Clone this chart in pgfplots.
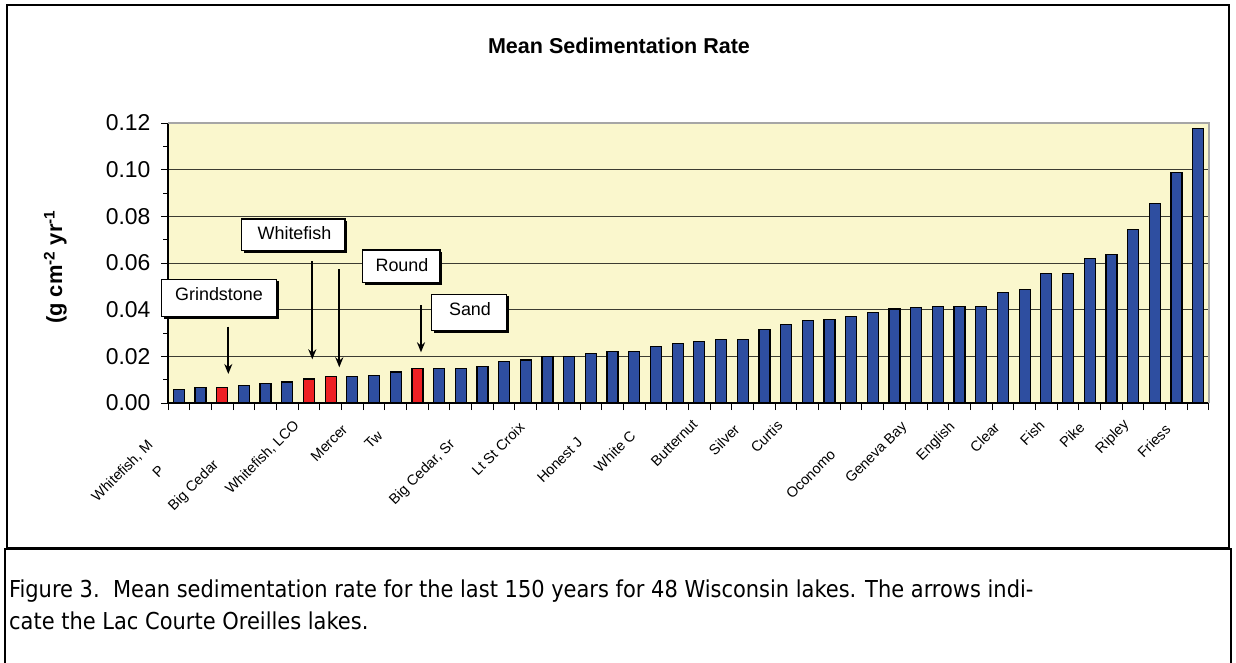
\documentclass[border=0pt]{standalone}
\usepackage{fontspec}
\setmainfont{Liberation Sans}
\newfontfamily\capfont{DejaVu Sans Condensed}
\usepackage{pgfplots}
\pgfplotsset{compat=1.18}
\usetikzlibrary{arrows.meta}
\definecolor{plotbg}{RGB}{250,247,205}
\definecolor{barblue}{RGB}{46,78,160}
\definecolor{barred}{RGB}{238,32,36}
\definecolor{gridc}{RGB}{60,60,50}
\begin{document}
\begin{tikzpicture}[x=1bp,y=1bp]
\path[use as bounding box] (0,0) rectangle (1236,-663);
% chart frame
\draw[line width=1.5bp] (7,-5) rectangle (1229,-548);
\begin{axis}[
  at={(168bp,-403bp)}, anchor=south west,
  scale only axis, width=1041bp, height=280bp,
  xmin=0.5, xmax=48.5, ymin=0, ymax=0.12,
  axis x line*=bottom, axis y line*=left,
  axis line style={black, line width=1.2bp},
  axis background/.style={fill=plotbg},
  xtick={0.5,1.5,...,48.5}, xticklabels={},
  ytick={0,0.02,0.04,0.06,0.08,0.10,0.12},
  minor y tick num=1,
  tick align=outside,
  major tick length=7bp, minor tick length=5bp,
  tick style={black, line width=1bp},
  ymajorgrids, grid style={gridc, line width=1bp},
  yticklabel style={font=\fontsize{23}{25}\selectfont, xshift=-7bp},
  /pgf/number format/.cd, fixed, fixed zerofill, precision=2, assume math mode=true,
  /pgfplots/.cd,
  ybar, bar width=11bp,
]
\addplot[fill=barblue, draw=black, line width=1.2bp, bar shift=0pt] coordinates {
(1,0.0059) (2,0.0067) (4,0.0074) (5,0.0083) (6,0.0090)
(9,0.0112) (10,0.0119) (11,0.0133) (13,0.0148) (14,0.0148)
(15,0.0156) (16,0.0177) (17,0.0184) (18,0.0200) (19,0.0200) (20,0.0212)
(21,0.0221) (22,0.0221) (23,0.0242) (24,0.0256) (25,0.0265) (26,0.0272)
(27,0.0272) (28,0.0315) (29,0.0338) (30,0.0352) (31,0.0359) (32,0.0372)
(33,0.0387) (34,0.0403) (35,0.0409) (36,0.0415) (37,0.0415) (38,0.0415)
(39,0.0474) (40,0.0488) (41,0.0555) (42,0.0555) (43,0.0621) (44,0.0636)
(45,0.0745) (46,0.0854) (47,0.0987) (48,0.1175)
};
\addplot[fill=barred, draw=black, line width=1.2bp, bar shift=0pt] coordinates {
(3,0.0067) (7,0.0103) (8,0.0112) (12,0.0148)
};
\end{axis}
% gray top/right border of plot area
\draw[gray!70, line width=1.2bp] (168,-123) -- (1209,-123) -- (1209,-403);
% title
\node[anchor=base, font=\bfseries\fontsize{21.6}{24}\selectfont] at (619,-54) {Mean Sedimentation Rate};
% y label
\node[rotate=90, anchor=base, font=\bfseries\fontsize{22}{24}\selectfont] at (62,-267) {(g cm\textsuperscript{-2} yr\textsuperscript{-1}};
% x category labels
\begin{scope}[every node/.style={rotate=45, anchor=east, font=\fontsize{14.5}{16}\selectfont, inner sep=0pt}]
\node at (150.7,-443) {Whitefish, M};
\node at (161.7,-468) {P};
\node at (216.7,-463) {Big Cedar};
\node at (297,-423) {Whitefish, LCO};
\node at (345,-427) {Mercer};
\node at (380,-433) {Tw};
\node at (453,-442) {Big Cedar, Sr};
\node at (522,-425) {Lt St Croix};
\node at (580,-440) {Honest J};
\node at (633,-433) {White C};
\node at (695,-422) {Butternut};
\node at (737,-427) {Silver};
\node at (780,-423) {Curtis};
\node at (833,-452) {Oconomo};
\node at (905,-425) {Geneva Bay};
\node at (953,-425) {English};
\node at (997,-425) {Clear};
\node at (1042,-423) {Fish};
\node at (1082,-425) {Pike};
\node at (1127,-423) {Ripley};
\node at (1168,-427) {Friess};
\end{scope}
% callout boxes
\begin{scope}[line width=1.5bp]
\foreach \xa/\ya/\xb/\yb in {161.7/279.3/276.7/316.7, 241.7/219/345/250.7, 362.7/250/440/282.7, 431.7/294.3/506.7/330.7}{
  \fill[black] (\xa+2,-\ya-2) rectangle (\xb+2,-\yb-2);
  \filldraw[fill=white, draw=black] (\xa,-\ya) rectangle (\xb,-\yb);
}
\end{scope}
\begin{scope}[every node/.style={anchor=base, font=\fontsize{18}{20}\selectfont}]
\node at (219,-300) {Grindstone};
\node at (294.5,-240) {Whitefish};
\node at (402,-271) {Round};
\node at (470,-315) {Sand};
\end{scope}
% arrows
\begin{scope}[line width=2bp, -{Stealth[length=10bp,width=8bp]}]
\draw (228.3,-326.7) -- (228.3,-374);
\draw (312.3,-261) -- (312.3,-359.3);
\draw (339.3,-269.3) -- (339.3,-367.3);
\draw (421,-305) -- (421,-352.3);
\end{scope}
% caption box
\draw[line width=2.5bp] (5,-663) -- (5,-549) -- (1231,-549) -- (1231,-663);
\node[anchor=base west, inner sep=0pt, font=\capfont\fontsize{23.4}{26}\selectfont] at (9,-597) {Figure 3.\ \ Mean sedimentation rate for the last 150 years for 48 Wisconsin lakes. The arrows indi-};
\node[anchor=base west, inner sep=0pt, font=\capfont\fontsize{23.4}{26}\selectfont] at (9,-629) {cate the Lac Courte Oreilles lakes.};
\end{tikzpicture}
\end{document}
